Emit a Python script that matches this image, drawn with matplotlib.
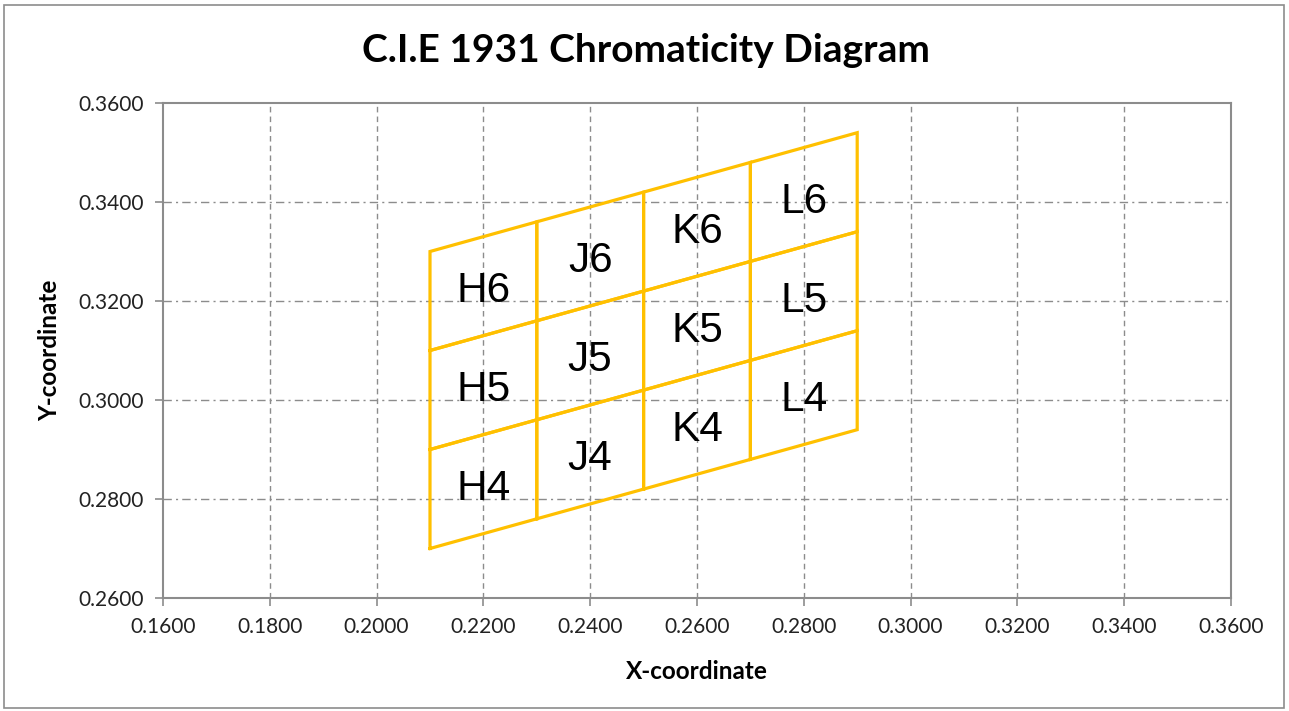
"""
CIE 1931 chromaticity diagram - H/J/K/L x 4/5/6 bins
"""

import matplotlib.pyplot as plt
from matplotlib.patches import Rectangle
from matplotlib.transforms import offset_copy

# ── data ──────────────────────────────────────────────
COL_NAMES = ["H", "J", "K", "L"]
ROW_NAMES = ["4", "5", "6"]
X_EDGES = [0.21, 0.23, 0.25, 0.27, 0.29]      # bin x boundaries
Y_EDGES_AT_X0 = [0.27, 0.29, 0.31, 0.33]       # row boundaries at x = 0.21
SLOPE = 0.3                                    # dy/dx of the slanted edges

X_TICKS = [0.16, 0.18, 0.20, 0.22, 0.24, 0.26, 0.28, 0.30, 0.32, 0.34, 0.36]
Y_TICKS = [0.26, 0.28, 0.30, 0.32, 0.34, 0.36]

LINE_COLOR = "#FFC000"
GRID_COLOR = "#8C8C8C"


def y_edge(i, x):
    return Y_EDGES_AT_X0[i] + SLOPE * (x - X_EDGES[0])


def main():
    fig = plt.figure(figsize=(12.89, 7.11), dpi=100)
    ax = fig.add_axes([163 / 1289, 1 - 598 / 711, 1068 / 1289, 495 / 711])

    # chart area border
    fig.patches.append(Rectangle((4 / 1289, 3 / 711), 1280 / 1289, 703 / 711,
                                 transform=fig.transFigure, fill=False,
                                 edgecolor="#8C8C8C", linewidth=1.2))

    # grid
    for x in X_TICKS[1:-1]:
        ax.axvline(x, color=GRID_COLOR, lw=1.0, ls=(0, (4, 3)), zorder=1)
    for y in Y_TICKS[1:-1]:
        ax.axhline(y, color=GRID_COLOR, lw=1.0, ls=(0, (6, 3, 1.5, 3)), zorder=1)

    # labels are drawn a few px below the geometric centre, as in the original
    label_tf = offset_copy(ax.transData, fig=fig, x=0, y=-5, units="dots")

    # cells
    for ci, cname in enumerate(COL_NAMES):
        x0, x1 = X_EDGES[ci], X_EDGES[ci + 1]
        for ri, rname in enumerate(ROW_NAMES):
            xs = [x0, x1, x1, x0, x0]
            ys = [y_edge(ri, x0), y_edge(ri, x1), y_edge(ri + 1, x1),
                  y_edge(ri + 1, x0), y_edge(ri, x0)]
            ax.plot(xs, ys, color=LINE_COLOR, lw=2.3, zorder=3,
                    solid_joinstyle="miter")
            xc = (x0 + x1) / 2
            yc = (y_edge(ri, xc) + y_edge(ri + 1, xc)) / 2
            ax.text(xc, yc, cname + rname, ha="center", va="center",
                    fontsize=30.5, family="Liberation Sans", color="black",
                    transform=label_tf, zorder=4)

    ax.set_xlim(X_TICKS[0], X_TICKS[-1])
    ax.set_ylim(Y_TICKS[0], Y_TICKS[-1])
    ax.set_xticks(X_TICKS)
    ax.set_yticks(Y_TICKS)
    ax.set_xticklabels([f"{v:.4f}" for v in X_TICKS], family="Lato", fontsize=15)
    ax.set_yticklabels([f"{v:.4f}" for v in Y_TICKS], family="Lato", fontsize=15)
    ax.tick_params(direction="out", length=6, width=1.2, color="#8C8C8C",
                   pad=8, labelcolor="#222222")
    for sp in ax.spines.values():
        sp.set_color("#8C8C8C")
        sp.set_linewidth(1.5)

    ax.set_xlabel("X-coordinate", family="Lato", fontweight="bold",
                  fontsize=17.5, labelpad=16)
    ax.set_ylabel("Y-coordinate", family="Lato", fontweight="bold",
                  fontsize=17.5, labelpad=12)

    fig.text(646 / 1289, 1 - 50 / 711, "C.I.E 1931 Chromaticity Diagram",
             ha="center", va="center", family="Lato", fontweight="bold",
             fontsize=28)

    fig.savefig("out.png", dpi=100)
    plt.close(fig)


if __name__ == "__main__":
    main()
